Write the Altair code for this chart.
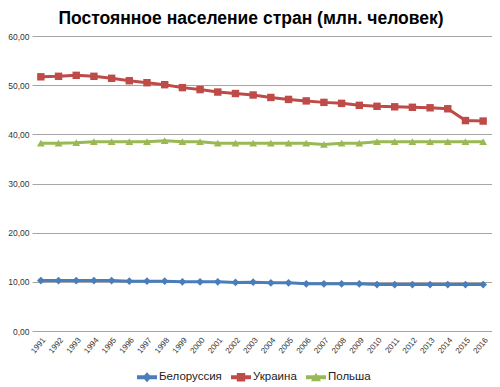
import altair as alt
import pandas as pd

years = [str(y) for y in range(1991, 2017)]
belarus = [10.25, 10.25, 10.25, 10.25, 10.25, 10.13, 10.13, 10.13, 10.0, 10.0, 10.0, 9.87, 9.93,
           9.8, 9.8, 9.6, 9.6, 9.6, 9.6, 9.45, 9.45, 9.45, 9.45, 9.45, 9.45, 9.45]
ukraine = [51.7, 51.8, 52.0, 51.8, 51.4, 50.9, 50.5, 50.1, 49.5, 49.1, 48.6, 48.3, 48.0,
           47.5, 47.1, 46.8, 46.5, 46.3, 45.9, 45.7, 45.6, 45.5, 45.4, 45.2, 42.8, 42.7]
poland = [38.2, 38.2, 38.3, 38.5, 38.5, 38.5, 38.5, 38.7, 38.5, 38.5, 38.2, 38.2, 38.2,
          38.2, 38.2, 38.2, 37.95, 38.2, 38.2, 38.5, 38.5, 38.5, 38.5, 38.5, 38.5, 38.5]
series = ["Белоруссия", "Украина", "Польша"]
colors = ["#4a7ebb", "#be4b48", "#98b954"]
shapes = ["diamond", "square", "triangle-up"]

rows = []
for name, vals in zip(series, [belarus, ukraine, poland]):
    for y, v in zip(years, vals):
        rows.append({"Год": y, "Страна": name, "Значение": v})
df = pd.DataFrame(rows)

FONT = "Liberation Sans"

x_enc = alt.X("Год:O", title=None, sort=years,
              scale=alt.Scale(paddingInner=0, paddingOuter=0.5),
              axis=alt.Axis(labelAngle=-50, labelFontSize=8, labelColor="#333333",
                            labelFont=FONT, ticks=False, domain=False, labelPadding=5,
                            labelAlign="right", labelBaseline="top"))
y_enc = alt.Y("Значение:Q", title=None,
              scale=alt.Scale(domain=[0, 60]),
              axis=alt.Axis(values=[0, 10, 20, 30, 40, 50, 60],
                            labelExpr="replace(format(datum.value, '.2f'), '.', ',')",
                            labelFontSize=8.5, labelColor="#333333", labelFont=FONT,
                            ticks=False, domain=False, gridColor="#a6a6a6",
                            gridWidth=1.2, labelPadding=3))
color_scale = alt.Scale(domain=series, range=colors)

base = alt.Chart(df).encode(x=x_enc, y=y_enc)

layers = []
for name, shp, col in zip(series, shapes, colors):
    sub = base.transform_filter(alt.datum["Страна"] == name)
    layers.append(sub.mark_line(strokeWidth=3, color=col))
    layers.append(sub.mark_point(filled=True, opacity=1, shape=shp, color=col,
                                 size=60 if shp != "square" else 55))

legend_paths = [
    "M-1,-0.2H1V0.2H-1Z M0,-0.5L0.45,0L0,0.5L-0.45,0Z",
    "M-1,-0.2H1V0.2H-1Z M-0.42,-0.42H0.42V0.42H-0.42Z",
    "M-1,-0.2H1V0.2H-1Z M0,-0.45L0.5,0.4H-0.5Z",
]
# legend-only layer: no rows drawn, entries come from the scale domains
legend_layer = base.transform_filter("false").mark_point(filled=True, opacity=1).encode(
    color=alt.Color("Страна:N", scale=color_scale, sort=series,
                    legend=alt.Legend(title=None, orient="none", direction="horizontal",
                                      legendX=105, legendY=331,
                                      symbolSize=400, symbolOpacity=1, labelFontSize=11.5,
                                      labelFont=FONT, labelColor="#222222",
                                      columnPadding=9, symbolStrokeWidth=0,
                                      labelOffset=2)),
    shape=alt.Shape("Страна:N", sort=series,
                    scale=alt.Scale(domain=series, range=legend_paths)),
)

chart = alt.layer(*layers, legend_layer).properties(
    width=460, height=295,
    title=alt.TitleParams("Постоянное население стран (млн. человек)", font=FONT,
                          fontSize=17.5, fontWeight="bold", color="#000000",
                          anchor="middle", offset=5, dx=-11),
    padding={"left": 24, "top": 28, "right": 0, "bottom": 56},
    autosize=alt.AutoSizeParams(type="none"),
).configure_view(stroke=None)

chart.save("out.html", embed_options={"renderer": "svg", "actions": False})
